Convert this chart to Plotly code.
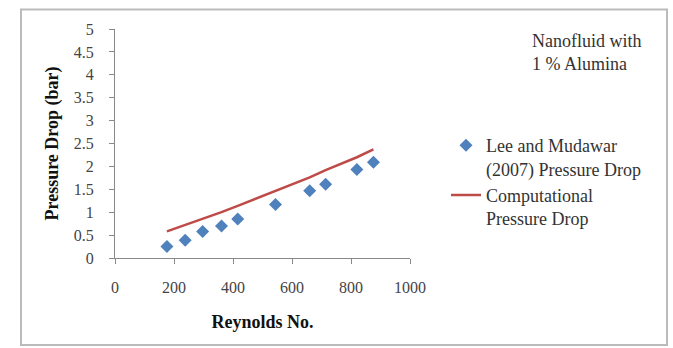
import plotly.graph_objects as go

# Data
reynolds_exp = [176, 238, 297, 361, 416, 544, 660, 714, 820, 876]
pressure_exp = [0.25, 0.39, 0.58, 0.70, 0.85, 1.17, 1.47, 1.61, 1.93, 2.09]

reynolds_comp = [176, 238, 297, 361, 416, 544, 660, 714, 820, 876]
pressure_comp = [0.58, 0.72, 0.86, 1.00, 1.14, 1.47, 1.76, 1.92, 2.20, 2.37]

x_ticks = [0, 200, 400, 600, 800, 1000]
y_ticks = [0, 0.5, 1, 1.5, 2, 2.5, 3, 3.5, 4, 4.5, 5]
y_tick_text = ["0", "0.5", "1", "1.5", "2", "2.5", "3", "3.5", "4", "4.5", "5"]

W, H = 673, 348
L, R, T, B = 115, 410, 29, 258  # plot area pixel box

def px(xp):
    return (xp - L) / (R - L)

def py(yp):
    return (B - yp) / (B - T)

FONT = "Liberation Serif, Times New Roman, serif"

fig = go.Figure()
fig.add_trace(go.Scatter(
    x=reynolds_exp, y=pressure_exp, mode="markers",
    name="Lee and Mudawar<br>(2007) Pressure Drop",
    marker=dict(symbol="diamond", size=10, color="#4F81BD"),
))
fig.add_trace(go.Scatter(
    x=reynolds_comp, y=pressure_comp, mode="lines",
    name="Computational<br>Pressure Drop",
    line=dict(color="#BE4B48", width=2.5),
))

fig.update_layout(
    width=W, height=H,
    margin=dict(l=L, r=W - R, t=T, b=H - B, autoexpand=False),
    paper_bgcolor="white", plot_bgcolor="white",
    font=dict(family=FONT, size=18, color="#333333"),
    showlegend=True,
    legend=dict(
        x=px(446), y=py(127), xanchor="left", yanchor="top",
        font=dict(family=FONT, size=18, color="#333333"),
        itemwidth=30, tracegroupgap=2, valign="top", bgcolor="rgba(0,0,0,0)",
    ),
    xaxis=dict(
        range=[0, 1000], tickvals=x_ticks, ticks="outside", ticklen=5,
        tickcolor="#888888", showline=True, linecolor="#888888", linewidth=1,
        showgrid=False, zeroline=False,
        tickfont=dict(family=FONT, size=16, color="#444444"),
        ticklabelstandoff=10,
        title=dict(text="<b>Reynolds No.</b>", font=dict(family=FONT, size=18, color="#111111"), standoff=20),
    ),
    yaxis=dict(
        range=[0, 5], tickvals=y_ticks, ticktext=y_tick_text, ticks="outside", ticklen=5,
        tickcolor="#888888", showline=True, linecolor="#888888", linewidth=1,
        showgrid=False, zeroline=False,
        tickfont=dict(family=FONT, size=16, color="#444444"),
        ticklabelstandoff=12,
        title=dict(text="<b>Pressure Drop (bar)</b>", font=dict(family=FONT, size=18, color="#111111"), standoff=10),
    ),
    annotations=[dict(
        x=px(530), y=py(52), xref="paper", yref="paper",
        xanchor="left", yanchor="middle", align="left", showarrow=False,
        text="Nanofluid with<br>1 % Alumina",
        font=dict(family=FONT, size=18, color="#333333"),
    )],
    shapes=[dict(
        type="rect", xref="paper", yref="paper",
        x0=px(21), x1=px(667), y0=py(345), y1=py(9.5),
        line=dict(color="#BBBBBB", width=2),
    )],
)

fig.write_html("out.html", config={"displayModeBar": False},
               post_script="document.body.style.margin='0';")
